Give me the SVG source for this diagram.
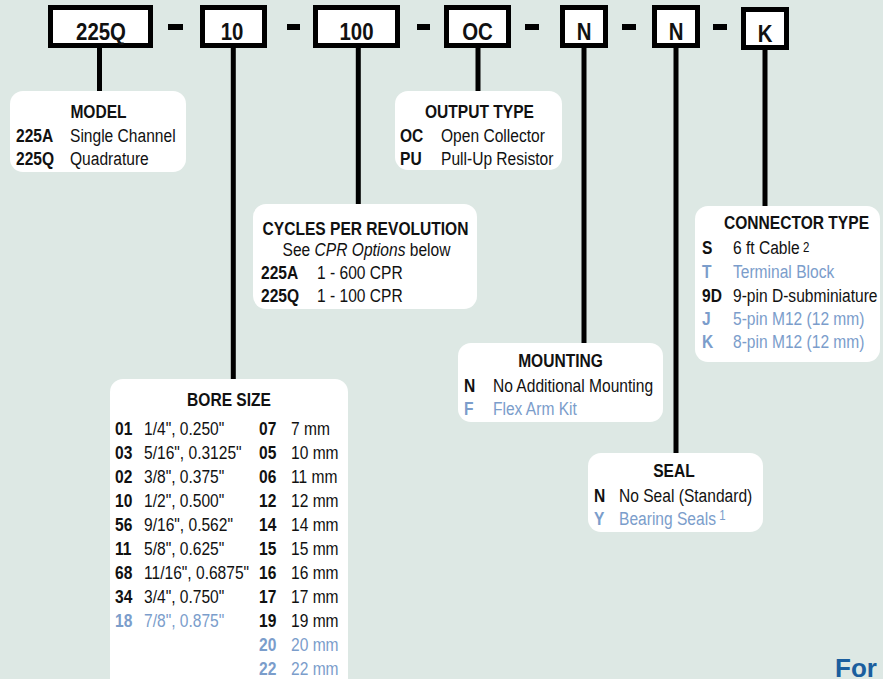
<svg xmlns="http://www.w3.org/2000/svg" width="883" height="679" viewBox="0 0 883 679">
<style>
.t{font-family:"Liberation Sans",Arial,sans-serif;font-size:19px;fill:#111}
.b{font-weight:bold}
.c{text-anchor:middle}
.blue{fill:#7b9dcb}
.pn{font-family:"Liberation Sans",Arial,sans-serif;font-size:24px;font-weight:bold;fill:#111;text-anchor:middle}
.pbox{fill:#fff;stroke:#000;stroke-width:5}
.card{fill:#fff}
.ln{stroke:#000;stroke-width:5;fill:none}
.sup{font-size:14px}
</style>
<rect width="883" height="679" fill="#dde8e4"/>
<g id="connectors">
<line class="ln" x1="99.5" y1="46" x2="99.5" y2="92"/>
<line class="ln" x1="233.3" y1="46" x2="233.3" y2="380"/>
<line class="ln" x1="358.3" y1="46" x2="358.3" y2="205"/>
<line class="ln" x1="478" y1="46" x2="478" y2="92"/>
<line class="ln" x1="584" y1="46" x2="584" y2="344"/>
<line class="ln" x1="676" y1="46" x2="676" y2="454"/>
<line class="ln" x1="765" y1="48" x2="765" y2="207"/>
</g>
<g id="part-number">
<rect class="pbox" x="50.5" y="7.5" width="100" height="38"/>
<text class="pn" transform="translate(101,40) scale(.85,1)">225Q</text>
<rect x="168" y="24" width="15" height="6" fill="#000"/>
<rect class="pbox" x="202.5" y="7.5" width="62" height="38"/>
<text class="pn" transform="translate(232,40) scale(.85,1)">10</text>
<rect x="287" y="24" width="13" height="6" fill="#000"/>
<rect class="pbox" x="315.5" y="7.5" width="82" height="38"/>
<text class="pn" transform="translate(356.5,40) scale(.85,1)">100</text>
<rect x="417" y="24" width="13" height="6" fill="#000"/>
<rect class="pbox" x="446.5" y="7.5" width="62" height="38"/>
<text class="pn" transform="translate(477.5,40) scale(.85,1)">OC</text>
<rect x="525" y="24" width="14" height="6" fill="#000"/>
<rect class="pbox" x="562.5" y="7.5" width="43" height="38"/>
<text class="pn" transform="translate(584,40) scale(.85,1)">N</text>
<rect x="622" y="24" width="14" height="6" fill="#000"/>
<rect class="pbox" x="654.5" y="7.5" width="43" height="38"/>
<text class="pn" transform="translate(676,40) scale(.85,1)">N</text>
<rect x="713" y="24" width="14" height="6" fill="#000"/>
<rect class="pbox" x="743.5" y="9.5" width="43" height="38"/>
<text class="pn" transform="translate(765,42) scale(.85,1)">K</text>
</g>
<g id="model">
<rect class="card" x="10" y="91" width="176" height="81" rx="13"/>
<text class="t b c" transform="translate(98.5,118) scale(.82,1)">MODEL</text>
<text class="t b" transform="translate(16,142) scale(.82,1)">225A</text><text class="t" transform="translate(70,142) scale(.82,1)">Single Channel</text>
<text class="t b" transform="translate(16,165) scale(.82,1)">225Q</text><text class="t" transform="translate(70,165) scale(.82,1)">Quadrature</text>
</g>
<g id="output-type">
<rect class="card" x="395" y="91" width="167" height="79" rx="13"/>
<text class="t b c" transform="translate(479.5,118) scale(.82,1)">OUTPUT TYPE</text>
<text class="t b" transform="translate(400,142) scale(.82,1)">OC</text><text class="t" transform="translate(441,142) scale(.82,1)">Open Collector</text>
<text class="t b" transform="translate(400,165) scale(.82,1)">PU</text><text class="t" transform="translate(441,165) scale(.82,1)">Pull-Up Resistor</text>
</g>
<g id="cpr">
<rect class="card" x="253" y="204" width="224" height="105" rx="13"/>
<text class="t b c" transform="translate(365.5,235) scale(.82,1)">CYCLES PER REVOLUTION</text>
<text class="t c" transform="translate(366.5,256) scale(.82,1)">See <tspan font-style="italic">CPR Options</tspan> below</text>
<text class="t b" transform="translate(261,279) scale(.82,1)">225A</text><text class="t" transform="translate(317,279) scale(.82,1)">1 - 600 CPR</text>
<text class="t b" transform="translate(261,302) scale(.82,1)">225Q</text><text class="t" transform="translate(317,302) scale(.82,1)">1 - 100 CPR</text>
</g>
<g id="connector-type">
<rect class="card" x="695" y="206" width="185" height="156" rx="13"/>
<text class="t b c" transform="translate(796.5,229) scale(.82,1)">CONNECTOR TYPE</text>
<text class="t b" transform="translate(702,254) scale(.82,1)">S</text><text class="t" transform="translate(733,254) scale(.82,1)">6 ft Cable<tspan class="sup" dx="4" dy="-2">2</tspan></text>
<text class="t b blue" transform="translate(702,278) scale(.82,1)">T</text><text class="t blue" transform="translate(733,278) scale(.82,1)">Terminal Block</text>
<text class="t b" transform="translate(702,302) scale(.82,1)">9D</text><text class="t" transform="translate(733,302) scale(.82,1)">9-pin D-subminiature</text>
<text class="t b blue" transform="translate(702,325) scale(.82,1)">J</text><text class="t blue" transform="translate(733,325) scale(.82,1)">5-pin M12 (12 mm)</text>
<text class="t b blue" transform="translate(702,348) scale(.82,1)">K</text><text class="t blue" transform="translate(733,348) scale(.82,1)">8-pin M12 (12 mm)</text>
</g>
<g id="mounting">
<rect class="card" x="458" y="343" width="205" height="79" rx="13"/>
<text class="t b c" transform="translate(560.5,367) scale(.82,1)">MOUNTING</text>
<text class="t b" transform="translate(464,392) scale(.82,1)">N</text><text class="t" transform="translate(493,392) scale(.82,1)">No Additional Mounting</text>
<text class="t b blue" transform="translate(464,415) scale(.82,1)">F</text><text class="t blue" transform="translate(493,415) scale(.82,1)">Flex Arm Kit</text>
</g>
<g id="seal">
<rect class="card" x="588" y="453" width="175" height="79" rx="13"/>
<text class="t b c" transform="translate(674,477) scale(.82,1)">SEAL</text>
<text class="t b" transform="translate(594,502) scale(.82,1)">N</text><text class="t" transform="translate(619,502) scale(.82,1)">No Seal (Standard)</text>
<text class="t b blue" transform="translate(594,525) scale(.82,1)">Y</text><text class="t blue" transform="translate(619,525) scale(.82,1)">Bearing Seals<tspan class="sup" dx="4" dy="-5">1</tspan></text>
</g>
<g id="bore-size">
<rect class="card" x="110" y="379" width="238" height="330" rx="13"/>
<text class="t b c" transform="translate(229,406) scale(.82,1)">BORE SIZE</text>
<text class="t b" transform="translate(115,435) scale(.82,1)">01</text><text class="t" transform="translate(144,435) scale(.82,1)">1/4", 0.250"</text>
<text class="t b" transform="translate(115,459) scale(.82,1)">03</text><text class="t" transform="translate(144,459) scale(.82,1)">5/16", 0.3125"</text>
<text class="t b" transform="translate(115,483) scale(.82,1)">02</text><text class="t" transform="translate(144,483) scale(.82,1)">3/8", 0.375"</text>
<text class="t b" transform="translate(115,507) scale(.82,1)">10</text><text class="t" transform="translate(144,507) scale(.82,1)">1/2", 0.500"</text>
<text class="t b" transform="translate(115,531) scale(.82,1)">56</text><text class="t" transform="translate(144,531) scale(.82,1)">9/16", 0.562"</text>
<text class="t b" transform="translate(115,555) scale(.82,1)">11</text><text class="t" transform="translate(144,555) scale(.82,1)">5/8", 0.625"</text>
<text class="t b" transform="translate(115,579) scale(.82,1)">68</text><text class="t" transform="translate(144,579) scale(.82,1)">11/16", 0.6875"</text>
<text class="t b" transform="translate(115,603) scale(.82,1)">34</text><text class="t" transform="translate(144,603) scale(.82,1)">3/4", 0.750"</text>
<text class="t b blue" transform="translate(115,627) scale(.82,1)">18</text><text class="t blue" transform="translate(144,627) scale(.82,1)">7/8", 0.875"</text>
<text class="t b" transform="translate(259,435) scale(.82,1)">07</text><text class="t" transform="translate(291,435) scale(.82,1)">7 mm</text>
<text class="t b" transform="translate(259,459) scale(.82,1)">05</text><text class="t" transform="translate(291,459) scale(.82,1)">10 mm</text>
<text class="t b" transform="translate(259,483) scale(.82,1)">06</text><text class="t" transform="translate(291,483) scale(.82,1)">11 mm</text>
<text class="t b" transform="translate(259,507) scale(.82,1)">12</text><text class="t" transform="translate(291,507) scale(.82,1)">12 mm</text>
<text class="t b" transform="translate(259,531) scale(.82,1)">14</text><text class="t" transform="translate(291,531) scale(.82,1)">14 mm</text>
<text class="t b" transform="translate(259,555) scale(.82,1)">15</text><text class="t" transform="translate(291,555) scale(.82,1)">15 mm</text>
<text class="t b" transform="translate(259,579) scale(.82,1)">16</text><text class="t" transform="translate(291,579) scale(.82,1)">16 mm</text>
<text class="t b" transform="translate(259,603) scale(.82,1)">17</text><text class="t" transform="translate(291,603) scale(.82,1)">17 mm</text>
<text class="t b" transform="translate(259,627) scale(.82,1)">19</text><text class="t" transform="translate(291,627) scale(.82,1)">19 mm</text>
<text class="t b blue" transform="translate(259,651) scale(.82,1)">20</text><text class="t blue" transform="translate(291,651) scale(.82,1)">20 mm</text>
<text class="t b blue" transform="translate(259,675) scale(.82,1)">22</text><text class="t blue" transform="translate(291,675) scale(.82,1)">22 mm</text>
</g>
<text x="835" y="677" font-family="'Liberation Sans',Arial,sans-serif" font-size="26" font-weight="bold" fill="#1a5e9e">For</text>
</svg>
